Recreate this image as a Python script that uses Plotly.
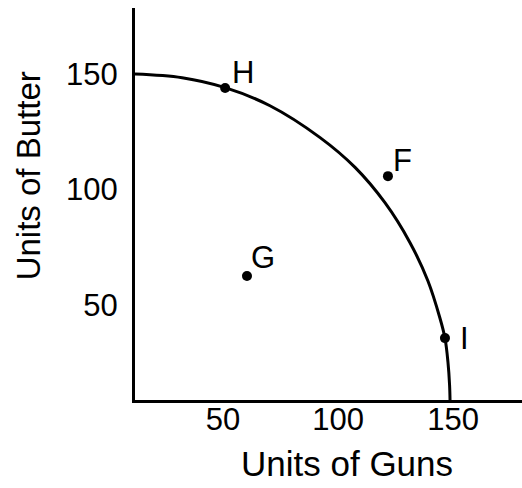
import plotly.graph_objects as go

# Production possibilities frontier
curve_guns = [11.7, 32.2, 50.9, 70.4, 92.2, 107.4, 120.4, 131.3, 139.1, 144.3, 146.5, 147.8, 148.5, 148.7]
curve_butter = [150.0, 148.4, 144.1, 136.3, 122.5, 109.6, 94.3, 77.0, 60.4, 44.4, 35.7, 25.3, 15.4, 8.9]

point_labels = ["H", "F", "G", "I"]
point_guns = [50.9, 121.7, 60.4, 146.5]
point_butter = [144.0, 105.8, 62.6, 35.7]

tick_vals = [50, 100, 150]
tick_text = ["50", "100", "150"]

FONT = "Liberation Sans, Arial, sans-serif"

fig = go.Figure()
fig.add_trace(go.Scatter(
    x=curve_guns, y=curve_butter, mode="lines",
    line=dict(color="black", width=3, shape="spline", smoothing=1.0),
    hoverinfo="skip", showlegend=False, cliponaxis=False,
))
fig.add_trace(go.Scatter(
    x=point_guns, y=point_butter, mode="markers",
    marker=dict(color="black", size=10),
    showlegend=False, cliponaxis=False,
))

label_shift = {"H": (18, 15), "F": (15, 16), "G": (16, 18), "I": (20, 0)}
for lab, gx, by in zip(point_labels, point_guns, point_butter):
    dx, dy = label_shift[lab]
    fig.add_annotation(x=gx, y=by, text=lab, showarrow=False,
                       xshift=dx, yshift=dy, xanchor="center", yanchor="middle",
                       font=dict(family=FONT, size=31, color="black"))

fig.add_annotation(xref="paper", yref="paper", x=0.549, y=-0.161, text="Units of Guns",
                   showarrow=False, xanchor="center", yanchor="middle",
                   font=dict(family=FONT, size=35, color="black"))
fig.add_annotation(xref="paper", yref="paper", x=-0.276, y=0.571, text="Units of Butter",
                   showarrow=False, xanchor="center", yanchor="middle", textangle=-90,
                   font=dict(family=FONT, size=33, color="black"))

fig.update_xaxes(range=[11.7, 180], tickvals=tick_vals, ticktext=tick_text,
                 showgrid=False, zeroline=False, showline=True, linecolor="black",
                 linewidth=3, ticks="", ticklabelstandoff=-10,
                 tickfont=dict(family=FONT, size=31, color="black"))
fig.update_yaxes(range=[8.9, 178.6], tickvals=tick_vals, ticktext=tick_text,
                 showgrid=False, zeroline=False, showline=True, linecolor="black",
                 linewidth=3, ticks="", ticklabelstandoff=8,
                 tickfont=dict(family=FONT, size=31, color="black"))

fig.update_layout(width=522, height=488, margin=dict(l=135, r=0, t=8, b=88),
                  paper_bgcolor="white", plot_bgcolor="white", showlegend=False)

fig.write_html("out.html", config={"displayModeBar": False},
               post_script="document.body.style.margin='0px';document.body.style.overflow='hidden';")
